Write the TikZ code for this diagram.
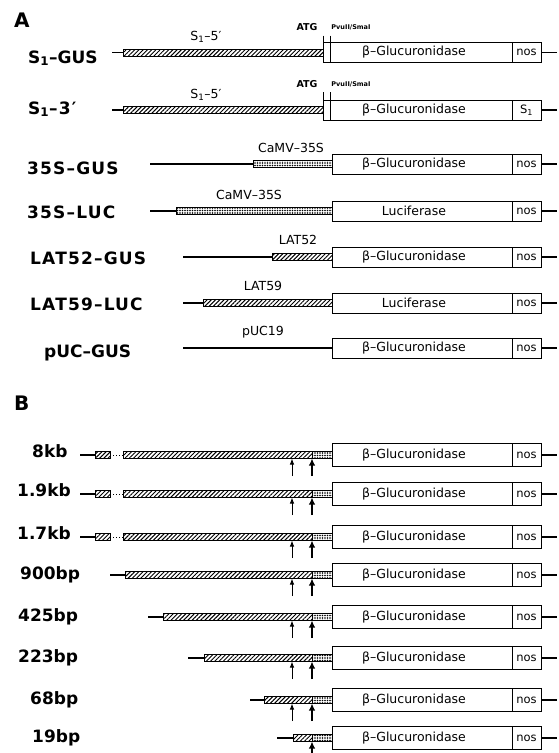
\documentclass[tikz,border=0pt]{standalone}
\usepackage{fontspec}
\setmainfont{DejaVu Sans}
\usetikzlibrary{patterns.meta,arrows.meta}
\newcommand\cas[5]{%
  \draw[bx] (#3,#2-\hh) rectangle (512,#2+\hh);
  \draw[bx] (512,#2-\hh) rectangle (541,#2+\hh);
  \node[gtxt] (#1g) at (414,#2) {#4};
  \node[ntxt] (#1n) at (526.5,#2) {#5};
  \draw[ln] (541,#2) -- (557,#2);}
\newcommand\arr[2]{%
  \draw[thinarr] (292,#1+21) -- (292,#1+3.5);}
\newcommand\arrb[1]{%
  \draw[thickarr] (312,#1+21) -- (312,#1+3.5);}
\begin{document}
\begin{tikzpicture}[x=1pt,y=-1pt,
  panel/.style={font=\bfseries\fontsize{20}{20}\selectfont,anchor=base west,inner sep=0pt},
  lab/.style={font=\bfseries\fontsize{17}{17}\selectfont,anchor=base west,inner sep=0pt},
  labs/.style={font=\bfseries\fontsize{17}{17}\selectfont\addfontfeature{LetterSpace=7},anchor=base west,inner sep=0pt},
  sml/.style={font=\fontsize{12.5}{12.5}\selectfont,inner sep=0pt,anchor=base},
  tiny/.style={font=\bfseries\fontsize{6.5}{6.5}\selectfont,inner sep=0pt,anchor=base},
  atg/.style={font=\bfseries\fontsize{9.5}{9.5}\selectfont,inner sep=0pt,anchor=base},
  gtxt/.style={font=\fontsize{12.5}{12.5}\selectfont,inner sep=0pt},
  ntxt/.style={font=\fontsize{11.5}{11.5}\selectfont,inner sep=0pt},
  ln/.style={line width=1.2pt},
  bx/.style={draw,line width=1pt,fill=white},
  hb/.style={draw,line width=0.9pt,pattern={Lines[angle=45,distance=3pt,line width=0.95pt]}},
  db/.style={draw,line width=0.9pt,pattern={Dots[distance=2.5pt,radius=0.9pt]}},
  thinarr/.style={line width=0.9pt,-{Latex[length=6pt,width=4.5pt]}},
  thickarr/.style={line width=1.6pt,-{Latex[length=7pt,width=6.5pt]}},
]
\useasboundingbox (0,0) rectangle (559,753);
% ---------------- Panel A ----------------
\node[panel] (pa) at (14,27) {A};
\def\hh{10}
% row 1
\node[lab] (t1) at (28,63) {S\textsubscript{1}–GUS};
\draw[ln] (112,52.5) -- (123,52.5);
\draw[hb] (123,49) rectangle (323,56);
\cas{r1}{52.5}{323}{β–Glucuronidase}{nos}
\draw[line width=1pt] (323,35.5) -- (323,62.5) (330,35.5) -- (330,62.5);
\node[sml] (s1) at (206,40) {S\textsubscript{1}–5′};
\node[atg] (a1) at (307,30) {ATG};
\node[tiny] (p1) at (351,29) {PvuII/SmaI};
% row 2
\node[labs] (t2) at (28,114) {S\textsubscript{1}–3′};
\draw[ln] (112,110) -- (123,110);
\draw[hb] (123,106.5) rectangle (323,113.5);
\cas{r2}{110}{323}{β–Glucuronidase}{S\textsubscript{1}}
\draw[line width=1pt] (323,92) -- (323,120) (330,92) -- (330,120);
\node[sml] (s2) at (206,98.5) {S\textsubscript{1}–5′};
\node[atg] (a2) at (307,87.5) {ATG};
\node[tiny] (p2) at (351,86.5) {PvuII/SmaI};
% row 3
\node[labs] (t3) at (27,174) {35S–GUS};
\draw[ln] (150,164) -- (253,164);
\draw[db] (253,160.5) rectangle (332,167.5);
\cas{r3}{164}{332}{β–Glucuronidase}{nos}
\node[sml] (s3) at (291,152) {CaMV–35S};
% row 4
\node[labs] (t4) at (27,218) {35S–LUC};
\draw[ln] (150,211) -- (176,211);
\draw[db] (176,207.5) rectangle (332,214.5);
\cas{r4}{211}{332}{Luciferase}{nos}
\node[sml] (s4) at (249,199) {CaMV–35S};
% row 5
\node[labs] (t5) at (30,264) {LAT52–GUS};
\draw[ln] (183,257) -- (272,257);
\draw[hb] (272,253.5) rectangle (332,260.5);
\cas{r5}{257}{332}{β–Glucuronidase}{nos}
\node[sml] (s5) at (298,244.5) {LAT52};
% row 6
\node[labs] (t6) at (30,310) {LAT59–LUC};
\draw[ln] (183,303) -- (203,303);
\draw[hb] (203,299.5) rectangle (332,306.5);
\cas{r6}{303}{332}{Luciferase}{nos}
\node[sml] (s6) at (263,290) {LAT59};
% row 7
\node[lab] (t7) at (44,357) {pUC–GUS};
\draw[ln] (183,348) -- (332,348);
\cas{r7}{348}{332}{β–Glucuronidase}{nos}
\node[sml] (s7) at (263,335.5) {pUC19};
% ---------------- Panel B ----------------
\node[panel] (pb) at (14,410) {B};
\def\hh{11.5}
\foreach \y/\t [count=\i] in {455/8kb,494/1.9kb,537/1.7kb}{
  \node[lab] (b\i) at ({\i==1 ? 32 : 17},\y+2) {\t};
  \draw[ln] (80,\y) -- (95,\y);
  \draw[hb] (95,\y-3.5) rectangle (110,\y+3.5);
  \draw[line width=1pt,dotted] (110,\y) -- (123,\y);
  \draw[hb] (123,\y-3.5) rectangle (312,\y+3.5);
  \draw[db] (312,\y-3.5) rectangle (332,\y+3.5);
  \cas{rb\i}{\y}{332}{β–Glucuronidase}{nos}
  \arr{\y}{}
  \arrb{\y}
}
\foreach \y/\t/\lx/\s/\bs [count=\i from 4] in {575/900bp/20/110/125,617/425bp/18/148/163,658/223bp/18/188/204,700/68bp/30/250/264}{
  \node[lab] (b\i) at (\lx,\y+4) {\t};
  \draw[ln] (\s,\y) -- (\bs,\y);
  \draw[hb] (\bs,\y-3.5) rectangle (312,\y+3.5);
  \draw[db] (312,\y-3.5) rectangle (332,\y+3.5);
  \cas{rb\i}{\y}{332}{β–Glucuronidase}{nos}
  \arr{\y}{}
  \arrb{\y}
}
\node[lab] (b8) at (32,742) {19bp};
\draw[ln] (277,738) -- (293,738);
\draw[hb] (293,734.5) rectangle (312,741.5);
\draw[db] (312,734.5) rectangle (332,741.5);
\cas{rb8}{738}{332}{β–Glucuronidase}{nos}
\arrb{738}
\end{tikzpicture}
\end{document}
